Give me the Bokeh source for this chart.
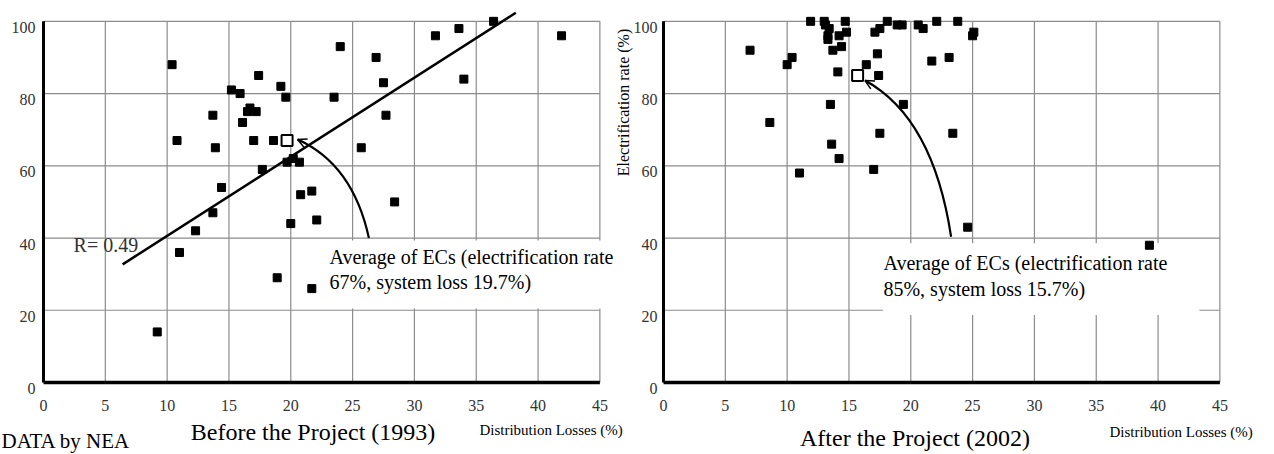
import math
from bokeh.plotting import figure
from bokeh.models import Range1d, Label, Arrow, OpenHead
from bokeh.core.properties import value
from bokeh.embed import file_html
from bokeh.resources import INLINE

# ---------------- data ----------------
before_loss = [10.4, 24.0, 26.9, 27.5, 17.4, 19.2, 15.2, 15.9, 19.6, 23.5,
               13.7, 16.7, 16.5, 17.2, 27.7, 16.1, 10.8, 13.9, 17.0, 18.6,
               25.7, 17.7, 19.7, 20.2, 20.7, 14.4, 20.8, 21.7, 28.4, 13.7,
               20.0, 22.1, 12.3, 11.0, 18.9, 21.7, 9.2, 31.7, 33.6, 36.4,
               41.9, 34.0]
before_rate = [88, 93, 90, 83, 85, 82, 81, 80, 79, 79,
               74, 76, 75, 75, 74, 72, 67, 65, 67, 67,
               65, 59, 61, 62, 61, 54, 52, 53, 50, 47,
               44, 45, 42, 36, 29, 26, 14, 96, 98, 100,
               96, 84]

after_loss = [11.9, 13.0, 13.1, 13.4, 13.3, 13.3, 14.7, 14.8, 14.2, 14.4,
              13.7, 17.1, 17.5, 18.1, 18.9, 19.3, 20.6, 21.0, 22.1, 23.8,
              25.1, 25.0, 7.0, 10.0, 10.4, 14.1, 16.4, 17.3, 17.4, 21.7,
              23.1, 13.5, 19.4, 8.6, 17.5, 23.4, 13.6, 14.2, 11.0, 17.0,
              24.6, 39.3]
after_rate = [100, 100, 99, 98, 96, 95, 100, 97, 96, 93,
              92, 97, 98, 100, 99, 99, 99, 98, 100, 100,
              97, 96, 92, 88, 90, 86, 88, 91, 85, 89,
              90, 77, 77, 72, 69, 69, 66, 62, 58, 59,
              43, 38]

avg_before = [19.7, 67]
avg_after = [15.7, 85]

trend_x = [6.4, 38.2]
trend_slope = 2.19
trend_intercept = 18.7
r_text = "R= 0.49"

x_ticks = [0, 5, 10, 15, 20, 25, 30, 35, 40, 45]
y_ticks = [0, 20, 40, 60, 80, 100]

title_before = "Before the Project (1993)"
title_after = "After the Project (2002)"
x_title = "Distribution Losses (%)"
y_title = "Electrification rate (%)"
note_before = ["Average of ECs (electrification rate", "67%, system loss 19.7%)"]
note_after = ["Average of ECs (electrification rate", "85%, system loss 15.7%)"]
source_text = "DATA by NEA"

# ---------------- geometry / styling ----------------
W, H = 1274, 454
PX, PY = 12.364, 3.6117          # pixels per unit on x (%) and y (%)
X0_LEFT, X0_RIGHT, Y0 = 43, 663, 382   # where the 0,0 corners of the two panels sit
FONT = "Liberation Serif"
GRID = "#8c8c8c"
TICK_COLOR = "#333333"

p = figure(width=W, height=H,
           x_range=Range1d(-X0_LEFT / PX, (W - X0_LEFT) / PX),
           y_range=Range1d(-(H - Y0) / PY, Y0 / PY),
           extra_x_ranges={"r": Range1d(-X0_RIGHT / PX, (W - X0_RIGHT) / PX)},
           x_axis_type=None, y_axis_type=None, min_border=0,
           output_backend="svg", toolbar_location=None,
           background_fill_color="white", border_fill_color="white")
p.outline_line_color = None
p.grid.visible = False

x_lo, x_hi = x_ticks[0], x_ticks[-1]
y_lo, y_hi = y_ticks[0], y_ticks[-1]


def draw_frame(rng, note_box, label_x):
    # grid lines from the tick lists
    p.segment(x0=x_ticks[1:], y0=[y_lo] * (len(x_ticks) - 1), x1=x_ticks[1:],
              y1=[y_hi] * (len(x_ticks) - 1), line_color=GRID, line_width=1.2,
              x_range_name=rng)
    p.segment(x0=[x_lo] * (len(y_ticks) - 1), y0=y_ticks[1:],
              x1=[x_hi] * (len(y_ticks) - 1), y1=y_ticks[1:],
              line_color=GRID, line_width=1.2, x_range_name=rng)
    # white box behind the annotation text
    p.quad(left=[note_box[0]], right=[note_box[1]], bottom=[note_box[2]], top=[note_box[3]],
           fill_color="white", line_color=None, x_range_name=rng)
    # axis lines
    p.line([x_lo, x_hi], [y_lo, y_lo], line_color="black", line_width=3.5, x_range_name=rng)
    p.line([x_lo, x_lo], [y_lo, y_hi], line_color="black", line_width=3, x_range_name=rng)
    # tick labels
    p.text(x=x_ticks, y=[-23 / PY] * len(x_ticks), text=[str(t) for t in x_ticks],
           text_font=value(FONT), text_font_size=value("16px"), text_color=TICK_COLOR,
           text_align="center", text_baseline="middle", x_range_name=rng)
    p.text(x=[label_x] * len(y_ticks), y=[t - 6 / PY for t in y_ticks],
           text=[str(t) for t in y_ticks],
           text_font=value(FONT), text_font_size=value("16px"), text_color=TICK_COLOR,
           text_align="right", text_baseline="middle", x_range_name=rng)


def add_label(text, x, y, size, rng="default", align="left", baseline="middle",
              angle=0.0, color="black"):
    p.add_layout(Label(x=x, y=y, text=text, text_font=FONT, text_font_size=size,
                       text_align=align, text_baseline=baseline, angle=angle,
                       text_color=color, x_range_name=rng))


def add_curved_arrow(p0, c, p2, rng):
    p.quadratic(x0=[p0[0]], y0=[p0[1]], x1=[p2[0]], y1=[p2[1]], cx=[c[0]], cy=[c[1]],
                line_color="black", line_width=2.2, x_range_name=rng)
    sx = p2[0] + 0.12 * (c[0] - p2[0])
    sy = p2[1] + 0.12 * (c[1] - p2[1])
    p.add_layout(Arrow(end=OpenHead(size=9, line_width=1.5, line_color="black"),
                       x_start=sx, y_start=sy, x_end=p2[0], y_end=p2[1],
                       line_width=1.5, line_color="black", x_range_name=rng))


# ---------------- left panel: before the project ----------------
draw_frame("default", (22.57, 46.0, 20.49, 39.32), -8 / PX)
p.line(trend_x, [trend_intercept + trend_slope * v for v in trend_x],
       line_color="black", line_width=2.5)
add_curved_arrow((26.32, 40.0), (25.02, 60.45),
                 (avg_before[0] + 0.85, avg_before[1] + 0.3), "default")
p.scatter(before_loss, before_rate, marker="square", size=8,
          fill_color="black", line_color="black")
p.scatter([avg_before[0]], [avg_before[1]], marker="square", size=11,
          fill_color="white", line_color="black", line_width=2)
add_label(r_text, 2.43, 38.2, "20px", color=TICK_COLOR)
add_label(note_before[0], 23.13, 34.69, "20px")
add_label(note_before[1], 23.13, 27.77, "20px")
add_label(title_before, 21.80, -13.84, "24px", align="center")
add_label(x_title, 35.26, -13.29, "15px")
add_label(source_text, -3.40, -16.3, "21px", baseline="alphabetic")
# y-axis title of the right-hand panel, between the two panels
add_label(y_title, 46.91, 77.52, "16px", align="center", angle=math.pi / 2)

# ---------------- right panel: after the project ----------------
draw_frame("r", (17.75, 43.35, 18.69, 38.57), -6 / PX)
add_curved_arrow((23.26, 40.36), (21.8, 73.3),
                 (avg_after[0] + 0.6, avg_after[1] - 1.4), "r")
p.scatter(after_loss, after_rate, marker="square", size=8,
          fill_color="black", line_color="black", x_range_name="r")
p.scatter([avg_after[0]], [avg_after[1]], marker="square", size=11,
          fill_color="white", line_color="black", line_width=2, x_range_name="r")
add_label(note_after[0], 17.79, 32.95, "20px", rng="r")
add_label(note_after[1], 17.79, 25.75, "20px", rng="r")
add_label(title_after, 20.34, -15.5, "24px", rng="r", align="center")
add_label(x_title, 36.07, -13.84, "15px", rng="r")

open("out.html", "w").write(file_html(p, INLINE))
